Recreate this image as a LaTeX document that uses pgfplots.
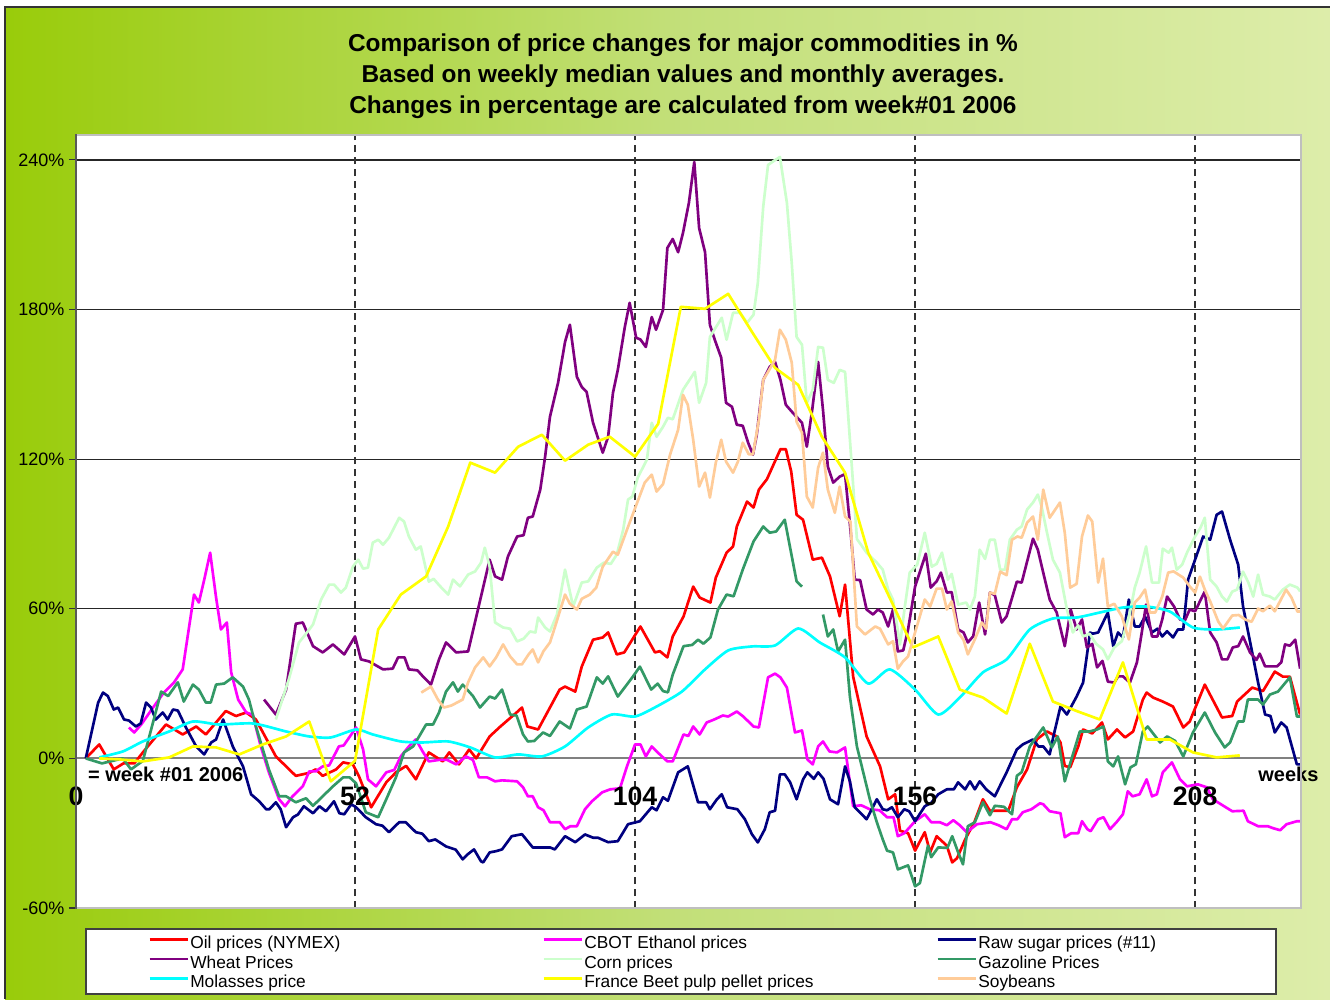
\documentclass[border=0pt]{standalone}
\usepackage{fontspec}
\setmainfont{Liberation Sans}
\usepackage{pgfplots}
\pgfplotsset{compat=1.18}
\definecolor{oilc}{HTML}{FF0000}
\definecolor{ethc}{HTML}{FF00FF}
\definecolor{sugc}{HTML}{000080}
\definecolor{whtc}{HTML}{800080}
\definecolor{cornc}{HTML}{CCFFCC}
\definecolor{gasc}{HTML}{339966}
\definecolor{molc}{HTML}{00FFFF}
\definecolor{beetc}{HTML}{FFFF00}
\definecolor{soyc}{HTML}{FFCC99}
\definecolor{bgL}{HTML}{99CC0A}
\definecolor{bgM}{HTML}{C2DF78}
\definecolor{bgR}{HTML}{DDEDAA}

\begin{document}
\begin{tikzpicture}
\path[use as bounding box] (0,0) rectangle (997.5pt,-749.25pt);
\begin{scope}[x=0.75pt,y=-0.75pt]
  \fill[white] (0,0) rectangle (1330,999);
  \shade[left color=bgL,right color=bgR,middle color=bgM] (5,7) rectangle (1330,999);
  \draw[black!80,line width=1.2pt] (5,999) -- (5,7) -- (1330,7);
  \fill[white] (86,929) rectangle (1276,994);
  \draw[black!75,line width=1pt] (86,929) rectangle (1276,994);
  \node[font=\bfseries\fontsize{18.3}{23.25}\selectfont,align=center] at (683,76)
    {Comparison of price changes for major commodities in \%\\
     Based on weekly median values and monthly averages.\\
     Changes in percentage are calculated from week\#01 2006};
\end{scope}

\begin{axis}[at={(56.25pt,-681pt)},anchor=south west,scale only axis,
  width=919.5pt,height=579.75pt,
  xmin=0,xmax=227.67,ymin=-60,ymax=250,clip=false,
  axis line style={draw=none},axis background/.style={fill=white},
  xtick=\empty,
  ytick={-60,0,60,120,180,240},ytick pos=left,
  yticklabels={-60\%,0\%,60\%,120\%,180\%,240\%},
  tick align=outside,major tick length=4.5pt,
  ytick style={black!80,line width=0.8pt},
  yticklabel style={font=\fontsize{13.5}{15}\selectfont},
  every axis plot/.append style={line width=2pt,line join=round},
  legend columns=3,
  legend style={draw=none,fill=none,at={(rel axis cs:0.0563,-0.031)},anchor=north west,
    font=\fontsize{13}{14}\selectfont,
    nodes={inner sep=1pt,text height=9.4pt,text depth=3.2pt},cells={anchor=west}},
  legend image code/.code={\draw[#1,line width=2pt] (0pt,3.8pt) -- (28.5pt,3.8pt);}]

% grid
\pgfplotsinvokeforeach{60,120,180,240}{
  \draw[black!85,line width=0.9pt] (axis cs:0,#1) -- (axis cs:227.67,#1);}
\pgfplotsinvokeforeach{52,104,156,208}{
  \draw[black!80,line width=1.1pt,dash pattern=on 5pt off 4pt] (axis cs:#1,-60) -- (axis cs:#1,250);}
\draw[black!50,line width=1.6pt] (axis cs:0,0) -- (axis cs:227.67,0);

% Oil
\addplot[oilc] coordinates {
(2,0)(4.5,5.6)(7.2,-4.4)(9,-2)(11,-2)(12.6,2.4)(16.9,13.6)(20,9.6)(22.5,12.8)(24.3,9.6)(28,19)(29.9,17)(31.8,18.4)(33.6,15.6)(37.3,0.8)(41,-7)(43.5,-5.8)(44.7,-4.4)(46,-7)(48.5,-4.4)(49.8,-1.6)(51.6,-2.4)(52.7,-7)(55,-19.6)(57.8,-9.6)(59.6,-5.6)(61.5,-3)(63.3,-8.4)(65.7,2.4)(68.3,-1.2)(69.5,2.4)(71.3,-2.4)(73.2,3.6)(74.5,0)(77,8.8)(79,12.8)(82,18.4)(83,20.4)(84,12.8)(86,11.6)(90,27.6)(91,28.8)(92.9,26.8)(94.1,36.8)(96.2,47.6)(98,48.5)(99,50.5)(100.6,41.7)(102,42.5)(105,52.9)(107.7,42.5)(108.6,43)(110,40.5)(111,48.9)(113,56.9)(114.8,68.9)(116,64.5)(118,62.5)(119,72.5)(121,82.5)(122.2,85)(122.9,93)(124.8,103)(126,100.6)(127,107.8)(128.5,112)(131,124)(132,124)(133,115)(134,97.7)(135.2,95.7)(137,79.7)(138.7,80.5)(140.2,73)(142,57)(143,69.7)(144.5,32.8)(147,8.8)(149.5,-3.2)(151,-16.4)(152.3,-14.4)(153.2,-29)(154.7,-30)(156,-37)(157.8,-29.6)(158.8,-37.7)(160,-31.2)(161.9,-35)(162.9,-41.7)(163.8,-40)(165.3,-32.5)(167,-25.6)(168.6,-16.4)(169.9,-21)(171,-21)(173.3,-21)(174.9,-11.6)(176.8,-4.4)(178.6,7.6)(180.5,10.8)(182.3,8.8)(183,6.4)(183.8,-3)(184.8,-3.6)(186.3,4.8)(187.2,11.6)(188.9,10)(190.7,14.4)(191.8,7.6)(193.5,11.6)(195,8.4)(196.5,10.8)(198.3,23.6)(199,26.4)(200.2,24.4)(202,22.8)(203.9,20.8)(205.8,12.4)(207,14.8)(209.8,29.6)(213,16.4)(214.9,17)(215.8,22.8)(218.6,28.4)(220.6,27)(222.8,34.8)(224.3,32.8)(225.6,32.8)(227.5,17.6)};
\addlegendentry{\makebox[263pt][l]{Oil prices (NYMEX)}}

% CBOT Ethanol
\addplot[ethc] coordinates {
(10,12.4)(11,10.4)(12.3,13.6)(14.5,20.4)(16.5,26.4)(18.4,30.5)(20,35.7)(21.2,52.9)(22.1,65.7)(23,62.5)(24,71.7)(25.1,82.5)(26.2,64.5)(27.1,51.7)(28.2,54.5)(29,34.5)(30.3,23.6)(31.8,18.4)(33,17.5)(34.5,4.8)(36,-5.6)(37.9,-16.4)(39,-19.2)(40.4,-15.2)(42.3,-11.2)(43.5,-5.2)(44.7,-5.2)(46,-3.2)(47.2,-2.8)(49,4.8)(49.9,5.2)(52.2,12.4)(53.5,3.6)(54.4,-8.4)(55.9,-11.2)(57.8,-5.6)(59.3,-4.6)(60.5,0.8)(62,4.8)(63.3,7.6)(64.5,3)(65.7,-1.2)(67.6,-0.6)(69.1,-0.6)(70.8,-2.4)(72.6,0.8)(73.9,-0.6)(75,-7.6)(76.5,-7.6)(78,-9.2)(79.3,-8.8)(82.1,-9.2)(83.2,-11.6)(84.1,-15.2)(85,-15.2)(86,-19.6)(87,-20.8)(88.2,-25.6)(90,-25.6)(91,-28.4)(92,-27.2)(93.2,-27.2)(94.7,-20.4)(96,-17.2)(97.9,-13.6)(99.4,-12.4)(101.2,-12)(102.5,-3.2)(104,5.6)(105,5.6)(106,0.8)(107.1,4.8)(108.3,2.2)(110,-1.2)(111,-1.2)(113,9.6)(113.9,9)(114.8,12.8)(116,9.6)(117.3,14.4)(118.6,15.5)(120.3,17.2)(121.3,16.8)(122.9,18.8)(124.1,16.8)(126,12.8)(127,12.4)(128.7,32.5)(130,34)(131,32.5)(132.2,28.4)(133.7,10.4)(135,11.2)(136,-0.4)(137,-2.4)(138,4.8)(138.9,6.8)(140.1,2.8)(141.5,2.4)(143,4.4)(144.5,-19.2)(146,-18.8)(147.6,-20.4)(149.4,-20.8)(150.8,-23.6)(152,-23.6)(152.8,-31.2)(154,-30)(156,-25.2)(157.8,-22.4)(159,-25.6)(160.6,-25.6)(161.9,-26.8)(163.1,-24.8)(164.3,-26.8)(165.6,-29.6)(167.5,-26.4)(170,-25.6)(171.5,-26.8)(173,-28.4)(174,-24.4)(175,-24.4)(176,-21.6)(177.6,-20.4)(179.2,-18)(179.8,-18.4)(181,-21.2)(183,-22)(183.8,-31.6)(185,-30)(186.3,-30)(187,-25.2)(188,-28.4)(188.6,-29.2)(190,-24.4)(191,-23.6)(192.2,-28.4)(193.4,-25.6)(194.6,-22.4)(195.5,-13.2)(196.4,-15.2)(197.7,-14.4)(199,-8.4)(200,-15.2)(200.9,-14.4)(202,-5.6)(203.7,-1.6)(205.2,-8.4)(206.5,-11.2)(208.5,-10.4)(210.2,-11.6)(211.3,-16.4)(212.8,-18.4)(214.9,-21.2)(217,-21)(217.8,-25.2)(219.7,-27.2)(221.5,-27.2)(222.5,-28)(223.8,-28.8)(225,-26.4)(226.9,-25.2)(227.5,-25.2)};
\addlegendentry{\makebox[263pt][l]{CBOT Ethanol prices}}

% Raw sugar
\addplot[sugc] coordinates {
(2,0)(4.3,22.4)(5.2,26.4)(6.1,25)(7.2,19.6)(8,20.4)(9.1,15.6)(10,15.2)(11.3,12.8)(12.2,14)(13.2,22.4)(14.1,20.4)(15,15.6)(16.3,18.4)(17.2,15.6)(18.2,19.6)(19.1,19.2)(20.6,12.4)(22.5,4.8)(24,1.6)(25.3,6.4)(26.2,7.6)(27.5,15.6)(29.3,4.8)(31.2,-3.2)(32.7,-14.4)(34.2,-17.2)(35.5,-20.4)(36.1,-20.4)(37.3,-17.6)(38.2,-20.4)(39.2,-27.6)(40.5,-23.6)(41.4,-22.5)(42.5,-19.2)(44.2,-22)(45.4,-19.2)(46.6,-21.2)(48.1,-17.2)(49.1,-22)(50,-22.4)(51.3,-18.4)(52.2,-19.6)(54,-23.6)(55.9,-26.4)(57.1,-27)(58.3,-29.6)(60.2,-25.6)(61.4,-25.6)(63.3,-29.6)(64.5,-30.2)(65.7,-33.2)(66.9,-32.5)(68.9,-35.3)(70.7,-36.6)(72,-40.5)(72.9,-38.5)(74.1,-36.5)(75.4,-41.3)(75.8,-41.7)(77,-37.7)(78.2,-37.2)(79.3,-36.5)(81.1,-31.2)(83,-30.4)(85,-35.7)(86.8,-35.7)(88.2,-35.7)(89.1,-36.5)(91,-31.2)(92.9,-33.6)(94.7,-30.5)(96.2,-31.8)(97.1,-31.8)(99,-33.6)(100.8,-33.2)(102.7,-26.4)(104.9,-25.2)(107.1,-19.6)(108,-20.8)(109.2,-15.6)(110.1,-17)(112,-5.6)(113.8,-3.2)(115.7,-17.6)(117.2,-17.6)(117.9,-20.4)(119.2,-16.4)(120.1,-14.4)(121.1,-19.6)(123,-20.4)(124.4,-24.4)(125.7,-30.4)(126.8,-33.7)(128.1,-28.4)(129,-21.6)(130,-21)(130.9,-6.4)(131.8,-6.4)(132.8,-9.6)(134,-16.4)(135.2,-8.4)(136,-5.6)(137.2,-8.2)(138,-5.6)(139,-8.2)(140.2,-16.4)(141.7,-18.4)(143,-3.2)(143.9,-9.2)(144.8,-19.6)(147,-24.4)(148.9,-16.4)(150,-20.4)(150.8,-20.8)(151.7,-19.6)(152.8,-23.6)(154,-20.4)(154.9,-21.2)(156,-25.2)(157.8,-19.2)(159,-17.8)(160.3,-14.4)(161.9,-12.4)(163.2,-12.4)(164,-9.6)(165.3,-12.4)(166.2,-9.2)(167.1,-12.4)(168,-9.2)(169.2,-12.4)(170.8,-15.2)(173,-5.6)(174.9,3.6)(176,5.6)(177.9,7.6)(178.9,4.8)(179.8,4.8)(181,1.6)(181.6,8)(183,20.8)(184.2,17.6)(186,24.8)(187.2,30.4)(188.5,50.5)(189,50)(190,50.5)(191.8,58.5)(192.8,45)(193.7,50.5)(194.6,48.5)(195.7,63.7)(196.8,52.9)(197.7,52.9)(198.7,56.9)(200,50.5)(201,52)(201.9,48.9)(202.8,51)(203.9,48.5)(204.8,51.7)(205.8,51.7)(206.7,71.7)(208,79.7)(209.5,89)(210.8,87.7)(212,97.7)(213,99)(214.5,87.7)(216,77.7)(216.9,61)(218.6,42.5)(219.7,30.4)(221,17.6)(222,17)(222.8,10.4)(224,14.4)(225,12.4)(226.9,-2.4)(227.5,-2.4)};
\addlegendentry{\makebox[263pt][l]{Raw sugar prices (\#11)}}

% Wheat
\addplot[whtc] coordinates {
(35.1,23.6)(37.3,17.6)(39.2,27.6)(41,54)(42.3,54.5)(44.2,45)(46,42.5)(47.9,45.7)(50,41.7)(52,48.9)(53.1,39.7)(54.6,38.9)(57.2,35.7)(59,36)(60,40.5)(61.2,40.5)(62,35.7)(63.6,35.3)(64.6,32.9)(66.1,29.6)(67.6,39.7)(68.9,46.5)(70.8,42.5)(73,42.9)(74.7,58.5)(77,79.7)(78,73)(79.3,71.7)(80.4,81)(82.1,89)(83.3,89.5)(84.1,96.5)(85,97)(86.4,107.8)(87.3,121)(88.2,137)(89.7,150.6)(91,167)(91.9,173.9)(93.2,153)(94.1,149)(95,147)(96.2,134.6)(98,122.6)(99,129)(99.9,146.6)(100.8,155.8)(102.1,173)(103,182.7)(104.2,168.7)(105,168)(106,165)(107.1,177)(107.9,171.9)(109.2,179.9)(110,204.7)(111,208.3)(112,203)(112.9,210.7)(114,222.8)(115,239.2)(115.9,212.7)(117,203)(117.9,173.9)(118.8,167.9)(120,160.7)(120.9,142.6)(122,141)(122.9,133.8)(124,133.4)(125,126.6)(125.9,121.8)(126.6,129.8)(127.8,151.8)(129,157)(130,159)(131,151.8)(132,141.8)(133.3,138.6)(135,134.6)(135.9,125)(136.9,139.8)(138,159)(138.9,139.8)(139.8,117)(140.8,110.6)(142,113)(143,114)(144,91.7)(144.8,71.7)(145.8,71.5)(147,59.7)(148.2,57.7)(149.1,59.7)(150,58.5)(151,52.9)(151.9,59.7)(152.8,42.9)(153.8,43.3)(154.7,51.7)(156,68.9)(158,82.1)(158.9,68.5)(160,71)(160.8,74.5)(161.9,66.5)(162.8,66.7)(164,51.7)(165,50.5)(165.8,46.5)(166.8,49)(167.9,62.5)(169,49.7)(169.9,66.5)(170.8,65.5)(172.1,54.5)(173,57)(174.9,70.9)(175.8,70.5)(176.8,78.9)(177.9,88.1)(178.8,83.7)(179.8,74.5)(181,63.7)(182.3,58.5)(183.8,45)(184.9,59.7)(186,51.7)(187,55.7)(187.9,44.5)(188.9,45.9)(189.8,36.5)(190.8,39.1)(191.8,30.8)(193,30.4)(193.7,32.9)(194.6,32.9)(195.9,30.4)(197.2,38.5)(198.1,50.5)(198.9,61.7)(200,48.9)(201,48.9)(201.9,55.7)(202.8,64.9)(204.1,60.9)(205.2,55.7)(206.1,55.3)(207,59.7)(208,59)(208.9,63)(209.8,66.9)(210.8,50.5)(212,46.5)(213,39.7)(214,39.7)(215,44.5)(216,45)(216.9,48.9)(218.2,42.5)(219.4,39.5)(220,42)(221,36.9)(223.2,36.9)(224,38.5)(224.7,45.7)(225.6,45.2)(226.6,47.6)(227.5,36)};
\addlegendentry{\makebox[263pt][l]{Wheat Prices}}

% Corn
\addplot[cornc] coordinates {
(37.3,15.6)(39.7,31.7)(41.6,46.5)(42.9,50)(44.2,53.7)(45.7,63.7)(47.2,69.7)(48.1,69.7)(49.4,66.5)(50.3,68.5)(51.6,76.9)(52.6,79.7)(53.5,76.1)(54.4,76.5)(55.3,86.5)(56.3,87.7)(57.2,85.7)(58.3,88.5)(60.2,96.5)(61.1,95)(62,89)(63.3,83.7)(64.2,85)(65.7,70.9)(66.6,72)(67.6,69.5)(69.3,65.7)(70.2,71.7)(71.5,69)(73,73.7)(74.3,75)(75.4,78.5)(76.1,84.5)(77,76.9)(78,54.5)(79.5,52.5)(80.8,52)(82.1,46.9)(83.3,48)(84.5,50.9)(85.5,50.5)(86,56.5)(87.3,52.5)(88.2,50.9)(89.5,57.7)(91,75.7)(92.5,60.9)(94.1,70.5)(95.3,71)(96.9,76.5)(98.2,78.5)(99.5,78)(100.6,81.7)(101.8,91.7)(102.7,103.8)(103.5,105)(104.5,112.6)(106.2,119.8)(107.1,134.6)(108,129)(109.2,133)(110.1,136.6)(111,136)(112.9,147.8)(115.1,155)(115.9,142.6)(117.2,150.6)(117.9,169)(120.1,176.7)(121,167.9)(122.2,178.7)(123.5,178.7)(124.8,174.7)(126,177.9)(126.8,190.7)(127.8,221.2)(128.7,238)(129.7,239.5)(130.9,241.2)(132.2,222.8)(133.1,198.7)(134,169)(135,165.9)(135.9,142.6)(137,147.8)(138,165)(138.9,164.7)(139.8,151.8)(140.9,150.6)(142,155.8)(143,155)(144.3,115.8)(145.2,88)(147,82.5)(148.9,78.5)(150,75.7)(151,67.7)(151.9,63.7)(153.2,45.7)(154.1,60.9)(155,74.5)(156.4,77.7)(157.8,90.5)(159.1,76.9)(160,78)(161,82.5)(162.1,71.7)(162.8,74)(164,61.7)(165.5,62.5)(166.2,59.7)(167.1,64.9)(168,83.7)(169,80)(169.9,87.7)(170.8,87.7)(171.8,75.7)(172.7,75.7)(173.6,87.7)(174.9,91.7)(175.8,93)(176.8,99.8)(177.9,102.6)(178.8,105.8)(179.5,101)(180.5,90.5)(181.6,79.7)(182.9,74.5)(184.2,59.7)(185.3,50.5)(186.3,53.3)(187.2,48.9)(188.4,50)(189.6,46)(190.9,43.7)(191.8,39.7)(193,44.5)(194.4,47)(195.9,58.5)(196.8,68.5)(197.7,74.5)(198.9,85)(200,70.5)(201.3,70.5)(202,84.1)(203.1,82.5)(203.7,84.5)(204.6,75.7)(205.6,77.7)(206.5,82.5)(208,89)(209,92.5)(209.8,96.5)(210.8,71.7)(212,68.9)(213,64.9)(213.9,62.9)(214.9,66.9)(215.8,67.7)(216.9,74.9)(217.9,70.5)(218.8,64.9)(219.7,73.7)(220.6,65.7)(221.9,64.9)(222.8,63.7)(224.3,67.7)(225.6,69.7)(227,68.5)(227.5,67)};
\addlegendentry{\makebox[263pt][l]{Corn prices}}

% Gasoline
\addplot[gasc] coordinates {
(2,0)(5,-2)(8.9,0)(10.4,-4.4)(12.6,-1)(16,26.8)(17.3,25)(19.1,30.5)(20.2,22.8)(21.9,29.6)(23,27.6)(24.3,22.4)(25.2,22.4)(26.2,29.6)(27.7,30)(29.3,32.5)(31.2,28.8)(32.3,23.6)(33.6,12.8)(36,-4.4)(37.9,-15.2)(39.2,-15.2)(41,-17.6)(42.9,-16)(44.2,-19)(46,-15.2)(47.9,-11.2)(49.8,-7.6)(51,-7.6)(52.2,-10)(54,-21.6)(56.3,-23.6)(57.8,-16.4)(59.6,-7.6)(61.1,2.4)(62.8,4.8)(63.9,8.8)(65.2,13.6)(66.5,13.6)(67.6,18.4)(68.9,26.8)(70.2,30.5)(71.1,26.8)(72,29.6)(73.9,25)(75.2,20.4)(77,24.8)(78,24)(79.3,27.6)(80.8,17.6)(82,17.2)(83.2,9.6)(84.1,6.8)(85.3,7)(86.9,10.4)(88.2,9)(90,14.8)(91.9,12)(93.2,19.6)(95,20.8)(96.9,32.5)(98,30)(99,32.9)(100.8,24.8)(103.6,32.8)(104.9,36.8)(107,27.6)(108.2,30)(109.2,27)(110.1,26.5)(111,33.6)(113,45)(114.6,45.5)(115.7,47.6)(116.7,46)(118,48.5)(119.4,59.7)(121,65.7)(122.3,65)(124,75.7)(126,87)(127.8,93)(129,90.5)(130.2,91)(131.8,95.7)(134,71)(135,68.9)};
\addlegendentry{\makebox[263pt][l]{Gazoline Prices}}
\addplot[gasc,forget plot] coordinates {
(138.9,57.7)(139.8,48.9)(140.8,51.7)(141.7,42.9)(143,47.6)(143.9,24.8)(145.2,4.8)(147.6,-16.4)(148.9,-25.6)(150,-32.5)(150.8,-37)(151.9,-37.7)(152.8,-44.5)(154.7,-42.9)(156,-51.3)(156.9,-50)(158.4,-35)(159,-39.6)(160.3,-35.7)(162,-35.9)(162.9,-31.2)(164,-37.7)(164.9,-42.5)(165.8,-27.2)(167.1,-25.6)(168.6,-17.6)(169.9,-22.8)(170.8,-19)(172.5,-19.4)(174,-22.4)(174.9,-7)(175.8,-5.5)(177.3,4.8)(179.8,12.4)(181.4,4.4)(182.5,8.8)(183.8,-9.2)(186.6,10.8)(188.4,10.8)(189.8,11.6)(191,12.8)(191.8,-1.2)(192.8,-3.2)(193.7,0.8)(195,-10.4)(196,-3.6)(197,-2.4)(198.3,10.8)(199.2,12.8)(201.5,6.4)(202.8,8.8)(204.3,7)(205.8,0.8)(207.6,10.4)(209.8,18.4)(211.7,10.4)(213.5,4.4)(214.5,6.4)(216,14.8)(217,14.8)(217.8,23.6)(219.7,23.6)(220.6,21.6)(221.9,25.6)(223.4,26.8)(225.6,32.5)(226.9,16.8)(227.5,16.8)};

% Molasses
\addplot[molc,smooth,tension=0.4] coordinates {
(4.5,0.4)(8.9,2.8)(12.6,6.8)(17.5,10.8)(21.9,14.8)(26.7,13.6)(33.1,14)(39.2,10.8)(43.5,8.8)(47.5,8.4)(52.2,11.6)(55.3,9.6)(60.5,6.8)(64.6,6.4)(69.3,6.8)(73.4,4.4)(78,0.4)(82.3,1.6)(86.7,0.8)(91,4.8)(95.3,12.4)(99.7,17.6)(104,16.8)(108,20.8)(112.7,26.8)(117,35.7)(121.3,43.3)(125.7,44.9)(130,45.3)(134.3,52.1)(138.3,46.5)(143,40.5)(147.3,30)(151.3,35.7)(156,27.6)(160.3,17.6)(164.3,24.4)(168.6,34.5)(173,39.7)(177.3,51.7)(181.6,56.1)(186,56.5)(190.3,58.5)(194.6,60.5)(199,60.9)(203.3,58.9)(207.6,52.5)(212,51.7)(216.3,52.5)};
\addlegendentry{\makebox[263pt][l]{Molasses price}}

% France beet pulp
\addplot[beetc] coordinates {
(4.5,0)(8.2,-0.4)(12.6,-1.2)(17.5,0.4)(21.9,4.8)(26.2,4.4)(30.5,1.6)(34.9,5.6)(39.2,8.8)(43.5,14.8)(47.5,-9.2)(52,-1)(56.3,51.7)(60.5,65.7)(65.2,73)(69.3,93)(73.4,118.6)(78,114.6)(82.3,125)(86.7,129.8)(91,119.4)(95.3,125.8)(99.3,129)(104,121)(108.3,134.2)(112.5,181.1)(117,180.3)(121.3,186.3)(125.7,171.1)(130,156.6)(134.3,149.8)(138.7,129)(143,114.6)(147.3,82.5)(151.6,63)(155.6,44.5)(160.3,48.9)(164.3,27.6)(168.6,24.4)(173,18)(177.3,46)(181.6,22.8)(186,19)(190.3,15.6)(194.6,38.5)(199,7.6)(203.3,7.6)(207.6,2.4)(212,0.4)(216.3,1.2)};
\addlegendentry{\makebox[263pt][l]{France Beet pulp pellet prices}}

% Soybeans
\addplot[soyc] coordinates {
(64.3,26.4)(66.1,28.8)(67.4,23.6)(68.5,20.4)(69.9,21.2)(72,23.6)(73,30.5)(74.3,36.5)(75.8,40.5)(77,36.9)(78.2,40.5)(79.5,45.7)(80.8,40.9)(82.1,37.7)(83,37.7)(84.2,41.6)(85,43.7)(86,38.5)(87,43)(88.2,46.5)(89.1,52.5)(91,65.7)(91.9,62)(93.2,59.7)(94.1,64)(95.6,65.7)(96.8,68.5)(98,76.9)(99.9,82.9)(100.8,81.7)(102.5,91.7)(104.4,102.6)(105.8,110.6)(107.1,113.8)(108,107)(109.2,110)(110.5,121.8)(112,131.8)(112.9,145.8)(113.8,141.8)(114.8,127.8)(115.9,109)(117,114.6)(117.9,104.6)(119,118.6)(120,127.8)(120.9,119)(122.2,114.6)(123.1,119)(124,126.6)(125.1,122)(125.9,122)(127,135.8)(127.8,151.8)(128.7,155)(130,159.9)(130.9,171.9)(132,167.9)(133.1,158.7)(134,135)(135,130.6)(135.9,105)(137,100.6)(138,116.6)(138.9,122.6)(139.8,107.8)(141.1,98.5)(142,109)(143,97)(144,95)(145.2,52.9)(146.7,49.7)(148.6,52.9)(149.5,52)(151,45.7)(151.9,47)(152.8,36)(153.8,39)(154.7,40.9)(156,50.5)(157.8,63.7)(158.8,60.9)(160,68.1)(161,68.1)(161.9,59.7)(162.8,63)(164,50.5)(165,47.5)(165.8,41.7)(167.1,47.7)(168.4,54.5)(169.2,52)(169.9,66.5)(170.8,66)(171.8,74.9)(173,73.5)(174,87.7)(175,89)(175.8,88.5)(176.8,94.5)(177.9,97)(178.8,87.7)(179.8,107.8)(181,96.5)(182.9,102.6)(183.8,90.5)(184.8,68.5)(186,70)(187,89)(188.1,97.4)(188.9,95)(190,70.5)(190.9,80.1)(191.8,60.9)(193,62)(194.4,56.9)(195.7,47.7)(196.8,62.5)(197.7,64.5)(198.7,67.7)(199.6,58.5)(200.6,58.5)(201.9,64.9)(203,74.5)(204,75)(205.8,72.5)(207,69)(208,66.5)(208.9,72.9)(209.8,67.7)(210.8,63)(212.3,54.9)(213.2,52.1)(214.9,57.3)(216.1,57.5)(217.3,55.7)(218.5,54.8)(219.7,60.1)(220.6,59)(221.9,61.3)(222.8,59)(224.9,67.7)(225.9,64.5)(227,58.9)(227.5,58.9)};
\addlegendentry{Soybeans}

% week labels
\pgfplotsinvokeforeach{52,104,156,208}{
  \node[font=\bfseries\fontsize{20}{20}\selectfont] at (axis cs:#1,-15.2) {#1};}
\node[font=\bfseries\fontsize{20}{20}\selectfont] at (axis cs:0.2,-15.2) {0};
\node[font=\bfseries\fontsize{15}{15}\selectfont,anchor=west,inner sep=0pt] at (axis cs:2.4,-6.4) {= week \#01 2006};
\node[font=\bfseries\fontsize{15}{15}\selectfont,anchor=west,inner sep=0pt] at (axis cs:219.7,-6.4) {weeks};
\end{axis}

\begin{scope}[x=0.75pt,y=-0.75pt]
  \draw[black!25,line width=1.5pt] (76,135) -- (1301,135) -- (1301,908) -- (76,908);
  \draw[black!65,line width=1.5pt] (76,134) -- (76,909);
\end{scope}
\end{tikzpicture}
\end{document}
